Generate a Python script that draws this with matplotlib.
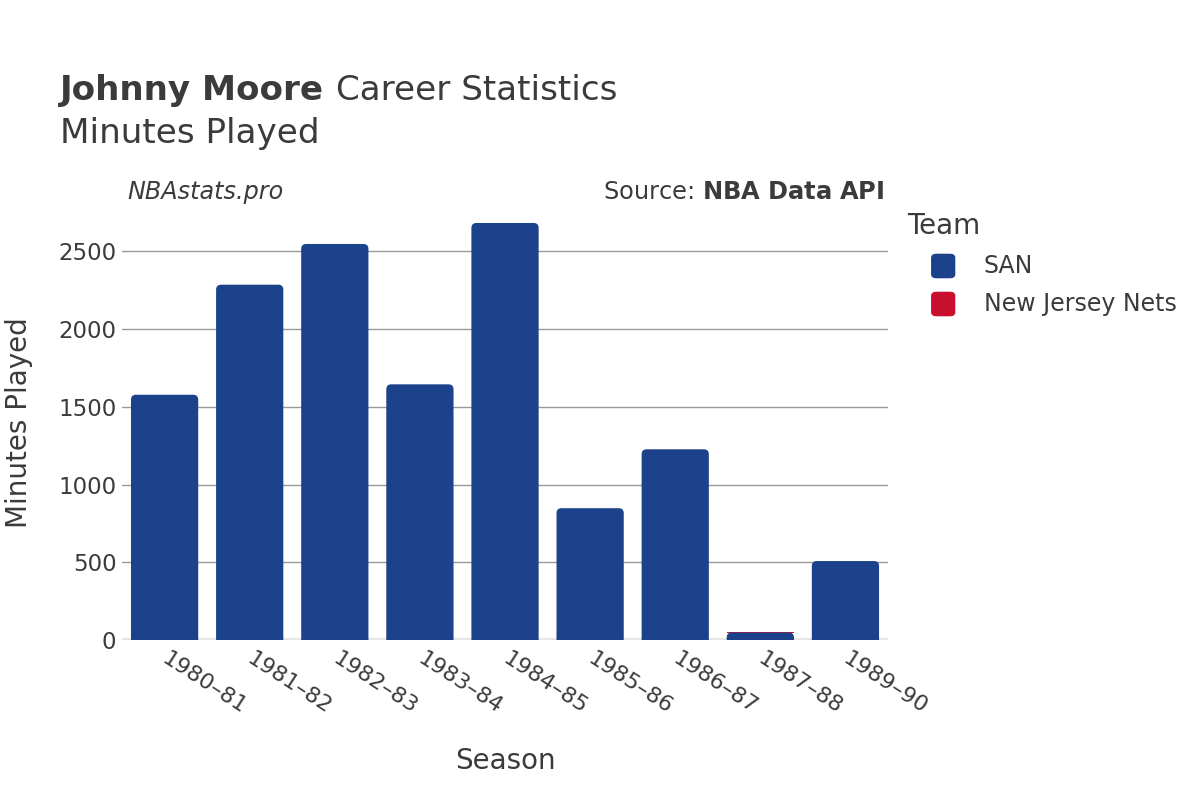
import numpy as np
import matplotlib.pyplot as plt
import matplotlib.transforms as mtransforms
from matplotlib.patches import FancyBboxPatch

seasons = ["1980–81", "1981–82", "1982–83", "1983–84", "1984–85",
           "1985–86", "1986–87", "1987–88", "1989–90"]
san_minutes = [1578, 2286, 2548, 1645, 2683, 848, 1227, 48, 508]
njn_minutes = [0, 0, 0, 0, 0, 0, 0, 5, 0]

san_color = "#1b428a"
njn_color = "#c8102e"
text_color = "#3b3b3b"

fig = plt.figure(figsize=(12, 8), dpi=100)
ax = fig.add_axes([0.1017, 0.2, 0.6383, 0.544])

ax.set_xlim(-0.5, len(seasons) - 0.5)
ax.set_ylim(0, 2800)

pos = np.arange(len(seasons))
bars = ax.bar(pos, san_minutes, width=0.79, color=san_color, zorder=3)
ax.bar(pos, njn_minutes, width=0.79, bottom=san_minutes, color=njn_color, zorder=3)

# round the top corners of the SAN bars (bottom corners hidden below zero)
r = 5 / 85.1            # corner radius in x units (~5 px)
aspect = (5 * 2800 / 435) / r
for b in bars:
    b.set_visible(False)
    x, w, h = b.get_x(), b.get_width(), b.get_height()
    ax.add_patch(FancyBboxPatch((x, -r * aspect), w, h + r * aspect,
                                boxstyle="round,pad=0,rounding_size=%f" % r,
                                mutation_aspect=aspect, color=san_color,
                                linewidth=0, zorder=3))

# axes
ax.set_yticks([0, 500, 1000, 1500, 2000, 2500])
ax.yaxis.grid(True, color="#999999", linewidth=1, zorder=0)
ax.axhline(0, color="#e6e6e6", linewidth=3, zorder=2)
for s in ax.spines.values():
    s.set_visible(False)
ax.tick_params(axis="y", length=0, labelsize=16.5, colors=text_color, pad=4)
ax.tick_params(axis="x", length=0, labelsize=16, colors=text_color, pad=6)
ax.set_xticks(pos)
ax.set_xticklabels(seasons, rotation=-33, ha="left", va="top", rotation_mode="anchor")
shift = mtransforms.ScaledTranslation(5 / 100, 0, fig.dpi_scale_trans)
for lbl in ax.get_xticklabels():
    lbl.set_transform(lbl.get_transform() + shift)

ax.set_xlabel("Season", fontsize=20, color=text_color)
ax.xaxis.set_label_coords(0.5, -0.245)
ax.set_ylabel("Minutes Played", fontsize=20, color=text_color)
ax.yaxis.set_label_coords(-0.116, 0.5)

# titles
t1 = fig.text(0.05, 0.887, "Johnny Moore", fontsize=24.6, fontweight="bold", color=text_color, va="center")
fig.canvas.draw()
ext = t1.get_window_extent(fig.canvas.get_renderer())
fig.text((ext.x1 + 12) / 1200, 0.887, "Career Statistics", fontsize=24.6, color=text_color, va="center")
fig.text(0.05, 0.833, "Minutes Played", fontsize=24.6, color=text_color, va="center")
fig.text(0.106, 0.76, "NBAstats.pro", fontsize=17.2, style="italic", color=text_color, va="center")
fig.text(0.737, 0.76, "Source: $\\bf{NBA\\ Data\\ API}$", fontsize=17.4, color=text_color, va="center", ha="right")

# legend
fig.text(0.756, 0.717, "Team", fontsize=20, color=text_color, va="center")
for i, (name, col) in enumerate([("SAN", san_color), ("New Jersey Nets", njn_color)]):
    y = 0.6675 - i * 0.0475
    fig.patches.append(FancyBboxPatch((0.7765, y - 0.0145), 0.019, 0.029,
                                      boxstyle="round,pad=0,rounding_size=0.004",
                                      transform=fig.transFigure, color=col))
    fig.text(0.82, y, name, fontsize=17, color=text_color, va="center")

plt.savefig("out.png")
